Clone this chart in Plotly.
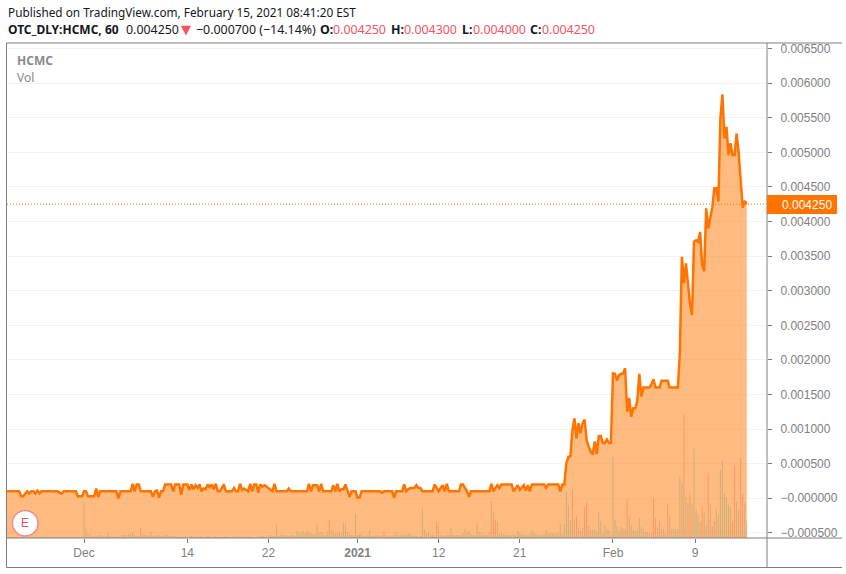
import plotly.graph_objects as go

# Hourly closes, in millionths of a dollar
close_micro = [
100,100,100,100,100,100,100,30,30,70,
100,70,100,100,70,110,70,100,100,100,
100,100,100,100,100,100,80,70,100,100,
100,100,100,100,100,30,30,30,100,100,
30,30,30,30,140,20,100,100,100,100,
100,100,100,100,100,0,100,100,100,100,
100,100,210,100,200,200,100,100,100,100,
100,100,20,100,110,10,100,100,200,200,
200,200,100,200,200,200,50,200,200,200,
120,200,130,190,150,200,100,140,130,200,
160,200,130,210,100,100,150,200,100,100,
100,100,150,100,100,210,120,140,120,100,
210,100,200,200,80,200,170,190,170,150,
130,100,210,100,100,100,100,100,100,140,
100,100,100,100,100,100,100,100,100,210,
100,190,190,190,100,210,100,100,100,100,
100,190,100,210,100,130,130,200,120,20,
100,100,100,10,10,100,100,100,100,100,
100,100,100,100,100,80,100,100,100,100,
100,10,100,100,100,100,200,100,130,150,
150,150,190,150,150,100,100,100,100,100,
100,200,150,100,150,190,100,210,100,100,
100,100,100,100,200,200,150,100,20,100,
100,100,100,100,100,100,100,100,100,210,
100,150,190,150,200,200,200,200,200,200,
100,150,190,120,150,190,110,190,100,200,
200,200,200,200,200,200,150,200,200,200,
200,200,200,100,200,200,505,600,610,987,
1155,867,1084,940,1084,1136,843,750,675,630,
820,640,900,900,800,800,850,800,800,1806,
1800,1700,1780,1800,1800,1880,1250,1450,1180,1300,
1300,1410,1800,1470,1600,1600,1600,1600,1650,1720,
1600,1600,1600,1700,1700,1700,1700,1600,1600,1600,
1600,1600,2100,3491,3105,3395,3106,2817,2650,3708,
3730,3708,3850,3370,3280,4190,3900,4070,4200,4480,
4480,4290,5490,5838,5200,5370,4960,5130,4960,4960,
5270,5000,4530,4200,4300,4250,
]

# Volume, arbitrary scale
volume = [
1,1,1,1,1,1,1,1,1,1,
1,1,1,1,1,1,1,1,1,1,
1,1,1,1,1,1,1,1,1,1,
1,1,1,1,1,1,1,1,36,10,
4,2,1,2,1,2,3,2,1,2,
5,2,1,1,1,2,1,3,3,3,
4,4,6,3,2,2,10,4,3,3,
2,6,2,2,2,3,2,2,4,3,
2,2,2,2,1,1,2,1,2,1,
1,2,1,1,2,1,2,1,1,2,
2,1,1,2,1,1,1,2,2,1,
1,1,2,1,2,1,1,2,1,2,
1,1,1,1,1,2,2,1,2,1,
3,2,2,14,2,3,4,3,3,2,
3,3,2,7,5,4,7,5,8,6,
5,4,4,14,5,6,5,3,7,18,
8,7,5,5,6,4,15,14,6,4,
3,3,24,3,4,4,2,2,3,8,
2,2,3,3,2,3,7,3,2,2,
1,3,6,3,3,4,4,3,5,4,
2,3,2,1,2,30,8,5,6,4,
3,2,16,12,3,3,2,3,3,10,
4,3,3,3,3,5,9,6,7,4,
3,3,15,6,5,3,4,3,6,37,
26,18,16,4,6,4,3,4,3,3,
4,3,7,5,4,4,3,3,4,8,
5,4,3,3,4,4,8,5,5,5,
4,5,5,14,4,14,46,33,17,48,
19,22,10,7,10,31,36,12,9,8,
8,6,26,17,5,13,9,8,3,81,
18,12,7,11,9,9,39,21,13,8,
7,8,20,11,9,6,6,5,5,40,
20,10,16,9,9,5,34,22,9,9,
9,8,61,55,123,41,35,43,34,89,
28,23,16,32,25,13,65,34,12,17,
29,23,68,77,45,41,33,30,17,73,
37,28,80,44,35,17,
]

down_bars = [40,66,71,159,174,186,212,240,241,279,281,285,286,291,306,319,320,322,
             326,334,337,343,346,349,358,359,362,363]

price_ticks = [-0.0005,0,0.0005,0.001,0.0015,0.002,0.0025,0.003,0.0035,0.004,0.0045,0.005,0.0055,0.006,0.0065]
price_labels = ["\u22120.000500","\u22120.000000","0.000500","0.001000","0.001500","0.002000","0.002500",
                "0.003000","0.003500","0.004000","0.004500","0.005000","0.005500","0.006000","0.006500"]
date_ticks = [38,89,129,173,213,253,299,339.5]
date_labels = ["Dec","14","22","<b>2021</b>","12","21","Feb","9"]
last_price = 0.00425
Y_MIN, Y_MAX = -0.000574, 0.00658

close = [v/1e6 for v in close_micro]
idx = list(range(len(close)))
ORANGE = "#ff7300"
GREY = "#787b86"
TICKTXT = "#808080"
AXISFONT = "Liberation Sans"

def px(x): return (x-7)/760
def py(y): return (538-y)/495

fig = go.Figure()
fig.add_trace(go.Scatter(x=idx, y=[Y_MIN]*len(idx), mode="lines", line=dict(width=0), hoverinfo="skip", showlegend=False))
fig.add_trace(go.Scatter(x=idx, y=close, mode="lines", line=dict(color=ORANGE, width=2.5),
                         fill="tonexty", fillcolor="rgba(255,120,0,0.5)", showlegend=False))
fig.add_trace(go.Bar(x=idx, y=volume, yaxis="y2", width=0.5, showlegend=False,
                     marker=dict(color=["rgba(255,120,86,0.55)" if i in down_bars else "rgba(165,165,115,0.55)" for i in idx],
                                 line=dict(width=0))))

shapes = []
for x0,y0,x1,y1 in [(6.5,43,842,43),(6.5,43,6.5,567.5),(6.5,567.5,842,567.5),(767,43,767,567.5),(6.5,538,842,538)]:
    shapes.append(dict(type="line", xref="paper", yref="paper", x0=px(x0), y0=py(y0), x1=px(x1), y1=py(y1),
                       line=dict(color="#7f7f7f", width=1)))
shapes.append(dict(type="line", xref="paper", yref="y", x0=0, x1=1, y0=last_price, y1=last_price,
                   line=dict(color=ORANGE, width=1, dash="1px,2px")))
shapes.append(dict(type="rect", xref="paper", yref="paper", x0=px(767), x1=px(837), y0=py(195), y1=py(214),
                   fillcolor=ORANGE, line=dict(width=0)))
shapes.append(dict(type="circle", xref="paper", yref="paper", x0=px(12.5), x1=px(38), y0=py(510.5), y1=py(536),
                   fillcolor="white", line=dict(color="#f08a94", width=1.5)))

def note(text, x, y, size=12.4, color="#131722", family="Noto Sans", anchor="left"):
    return dict(text=text, xref="paper", yref="paper", x=px(x), y=py(y), xanchor=anchor, yanchor="middle",
                showarrow=False, align="left", font=dict(size=size, color=color, family=family))

RED = "#f7525f"
L2 = 29.5
annotations = [
    note("Published on TradingView.com, February 15, 2021 08:41:20 EST", 6, 12.5, size=11.8),
    note("<b>OTC_DLY:HCMC, 60</b>", 6, L2, size=12),
    note("0.004250", 124, L2),
    note("\u25BC", 179, L2, color=RED, size=13, family="DejaVu Sans"),
    note("\u22120.000700 (\u221214.14%)", 194, L2),
    note("<b>O:</b>", 318, L2),
    note("0.004250", 331, L2, color=RED),
    note("<b>H:</b>", 389, L2),
    note("0.004300", 402, L2, color=RED),
    note("<b>L:</b>", 460, L2),
    note("0.004000", 470.5, L2, color=RED),
    note("<b>C:</b>", 528, L2),
    note("0.004250", 539.5, L2, color=RED),
    note("<b>HCMC</b>", 15, 60.5, color="#8a8a8a", size=12),
    note("Vol", 15, 77.5, color="#8a8a8a", size=12),
    note("E", 25.2, 523, size=12, color="#e8505f", family=AXISFONT, anchor="center"),
    note("0.004250", 780, 204.5, size=12, color="white", family=AXISFONT),
]

fig.update_layout(
    width=846, height=574, autosize=False,
    margin=dict(l=7, r=79, t=43, b=36, pad=0),
    paper_bgcolor="white", plot_bgcolor="white",
    barmode="overlay", showlegend=False,
    xaxis=dict(range=[0,375], tickmode="array", tickvals=date_ticks, ticktext=date_labels,
               showgrid=False, zeroline=False, showline=False, ticks="outside", ticklen=4, tickcolor=GREY,
               tickfont=dict(family=AXISFONT, size=12, color=TICKTXT)),
    yaxis=dict(range=[Y_MIN,Y_MAX], side="right", tickmode="array", tickvals=price_ticks, ticktext=price_labels,
               showgrid=True, gridcolor="#f0f3fa", gridwidth=1, zeroline=False, showline=False,
               ticks="outside", ticklen=4, tickcolor=GREY, ticklabelstandoff=6,
               tickfont=dict(family=AXISFONT, size=12, color=TICKTXT)),
    yaxis2=dict(range=[0,495], overlaying="y", side="left", visible=False),
    shapes=shapes, annotations=annotations,
)
fig.write_html("out.html", post_script="document.body.style.margin='0';", config={"displayModeBar": False})
